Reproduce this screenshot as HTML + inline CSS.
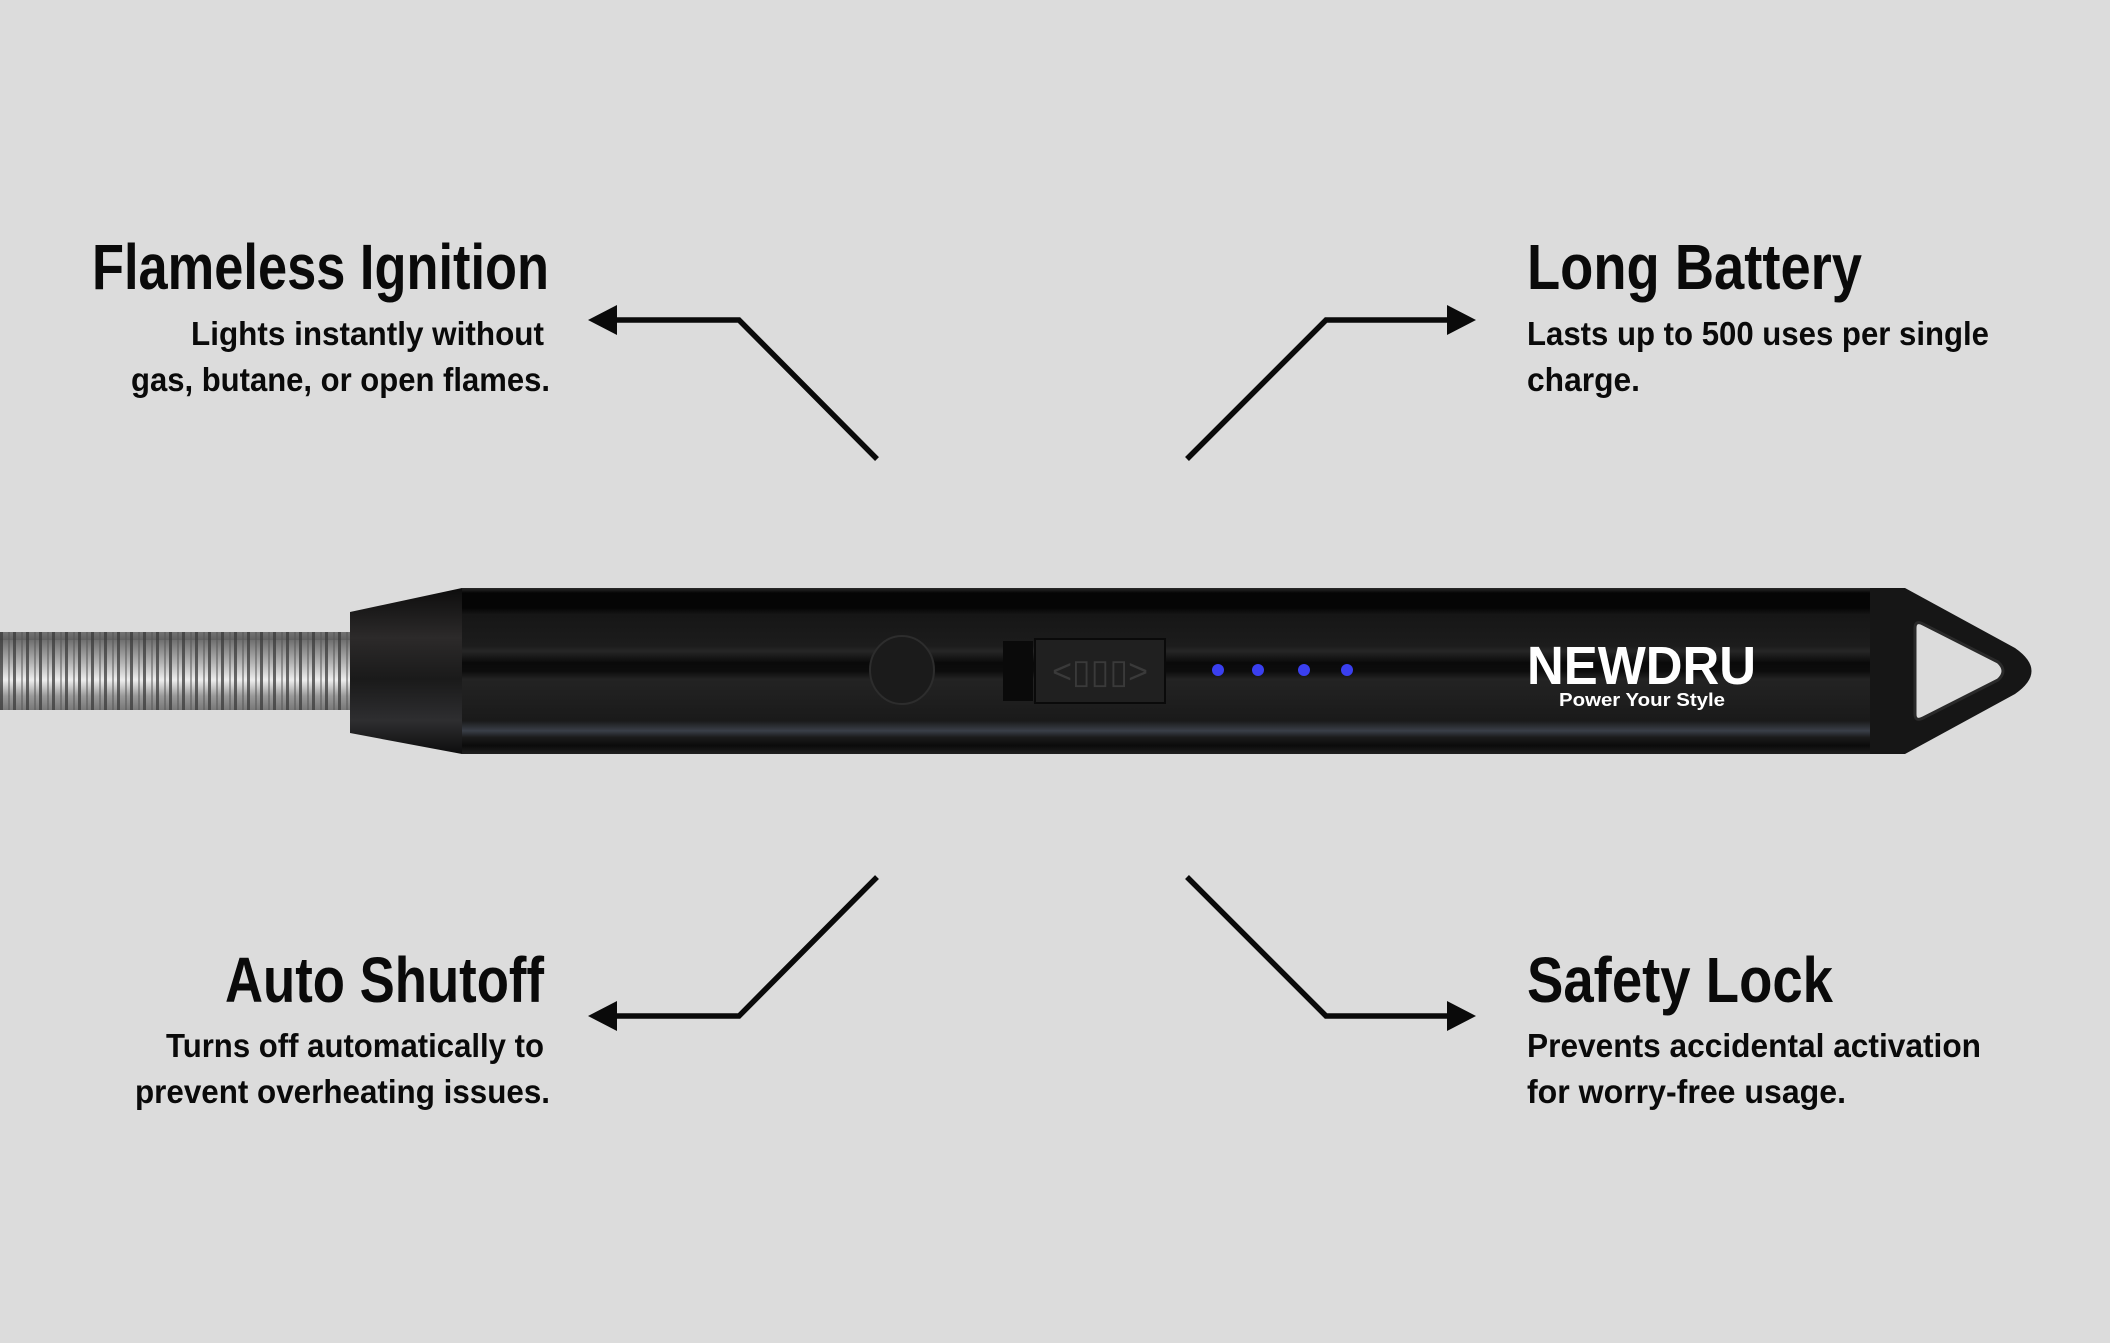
<!DOCTYPE html>
<html><head><meta charset="utf-8"><style>
html,body{margin:0;padding:0;background:#dcdcdc;}
svg{display:block}
text{font-family:"Liberation Sans",Arial,sans-serif;font-weight:bold;fill:#0a0a0a}
.h{font-size:64px}
.s{font-size:33px}
</style></head><body>
<svg width="2110" height="1343" viewBox="0 0 2110 1343" xmlns="http://www.w3.org/2000/svg">
<defs>
<linearGradient id="body" x1="0" y1="0" x2="0" y2="1">
<stop offset="0" stop-color="#2a2a2a"/>
<stop offset="0.03" stop-color="#050505"/>
<stop offset="0.12" stop-color="#050505"/>
<stop offset="0.16" stop-color="#161616"/>
<stop offset="0.35" stop-color="#1c1c1c"/>
<stop offset="0.38" stop-color="#262626"/>
<stop offset="0.45" stop-color="#0a0a0a"/>
<stop offset="0.5" stop-color="#0c0c0c"/>
<stop offset="0.55" stop-color="#232323"/>
<stop offset="0.8" stop-color="#1a1a1a"/>
<stop offset="0.86" stop-color="#3a3f48"/>
<stop offset="0.9" stop-color="#1b1b1b"/>
<stop offset="0.95" stop-color="#0b0b0b"/>
<stop offset="1" stop-color="#202020"/>
</linearGradient>
<linearGradient id="cap" x1="0" y1="0" x2="0" y2="1">
<stop offset="0" stop-color="#0d0d0d"/>
<stop offset="0.3" stop-color="#2c2a2a"/>
<stop offset="0.55" stop-color="#1a1a1a"/>
<stop offset="0.8" stop-color="#2e2e30"/>
<stop offset="1" stop-color="#0d0d0d"/>
</linearGradient>
<linearGradient id="hoseg" x1="0" y1="0" x2="0" y2="1">
<stop offset="0" stop-color="#707070"/>
<stop offset="0.3" stop-color="#b8b8b8"/>
<stop offset="0.5" stop-color="#eeeeee"/>
<stop offset="0.7" stop-color="#999"/>
<stop offset="1" stop-color="#606060"/>
</linearGradient>
<pattern id="coil" x="0" y="0" width="13" height="80" patternUnits="userSpaceOnUse">
<rect x="0" y="0" width="13" height="80" fill="url(#hoseg)"/>
<rect x="0" y="0" width="3" height="80" fill="#3a3a3a" opacity="0.75"/>
<rect x="8" y="0" width="2" height="80" fill="#555" opacity="0.5"/>
</pattern>
</defs>
<rect width="2110" height="1343" fill="#dcdcdc"/>

<rect x="0" y="632" width="352" height="78" fill="url(#coil)"/>
<polygon points="350,612 462,588 462,754 350,733" fill="url(#cap)"/>
<rect x="462" y="588" width="1410" height="166" fill="url(#body)"/>
<path d="M1870,588 L1905,588 L2015,648 Q2048,671 2015,694 L1905,754 L1870,754 Z" fill="#161616"/>
<path d="M1915,628 Q1915,620 1923,624 L1998,662 Q2008,671 1998,680 L1923,718 Q1915,722 1915,714 Z" fill="#dcdcdc" stroke="#2a2a2a" stroke-width="3"/>
<ellipse cx="902" cy="670" rx="32" ry="34" fill="#1b1b1b" stroke="#2d2d2d" stroke-width="2"/>
<rect x="1003" y="641" width="30" height="60" fill="#0a0a0a"/>
<rect x="1035" y="639" width="130" height="64" fill="#202020" stroke="#0a0a0a" stroke-width="2"/>
<text x="1100" y="683" text-anchor="middle" style="font-size:34px;fill:#3a3a3a;font-weight:normal">&lt;▯▯▯&gt;</text>
<g fill="#3a3ff0">
<circle cx="1218" cy="670" r="6"/><circle cx="1258" cy="670" r="6"/><circle cx="1304" cy="670" r="6"/><circle cx="1347" cy="670" r="6"/>
</g>
<text x="1527" y="684" textLength="229" lengthAdjust="spacingAndGlyphs" style="font-size:54px;fill:#fff">NEWDRU</text>
<text x="1559" y="706" textLength="166" lengthAdjust="spacingAndGlyphs" style="font-size:18px;fill:#fff">Power Your Style</text>

<g fill="none" stroke="#0a0a0a" stroke-width="5.5" stroke-linejoin="miter">
<polyline points="877,459 739,320 608,320"/>
<polyline points="1187,459 1326,320 1456,320"/>
<polyline points="877,877 739,1016 608,1016"/>
<polyline points="1187,877 1326,1016 1456,1016"/>
</g>
<g fill="#0a0a0a">
<polygon points="588,320 617,305 617,335"/>
<polygon points="1476,320 1447,305 1447,335"/>
<polygon points="588,1016 617,1001 617,1031"/>
<polygon points="1476,1016 1447,1001 1447,1031"/>
</g>

<text class="h" x="92" y="289" textLength="457" lengthAdjust="spacingAndGlyphs">Flameless Ignition</text>
<text class="s" x="191" y="345" textLength="353" lengthAdjust="spacingAndGlyphs">Lights instantly without</text>
<text class="s" x="131" y="391" textLength="419" lengthAdjust="spacingAndGlyphs">gas, butane, or open flames.</text>

<text class="h" x="1527" y="289" textLength="335" lengthAdjust="spacingAndGlyphs">Long Battery</text>
<text class="s" x="1527" y="345" textLength="462" lengthAdjust="spacingAndGlyphs">Lasts up to 500 uses per single</text>
<text class="s" x="1527" y="391" textLength="113" lengthAdjust="spacingAndGlyphs">charge.</text>

<text class="h" x="225" y="1002" textLength="319" lengthAdjust="spacingAndGlyphs">Auto Shutoff</text>
<text class="s" x="166" y="1057" textLength="378" lengthAdjust="spacingAndGlyphs">Turns off automatically to</text>
<text class="s" x="135" y="1103" textLength="415" lengthAdjust="spacingAndGlyphs">prevent overheating issues.</text>

<text class="h" x="1527" y="1002" textLength="306" lengthAdjust="spacingAndGlyphs">Safety Lock</text>
<text class="s" x="1527" y="1057" textLength="454" lengthAdjust="spacingAndGlyphs">Prevents accidental activation</text>
<text class="s" x="1527" y="1103" textLength="319" lengthAdjust="spacingAndGlyphs">for worry-free usage.</text>
</svg>
</body></html>
